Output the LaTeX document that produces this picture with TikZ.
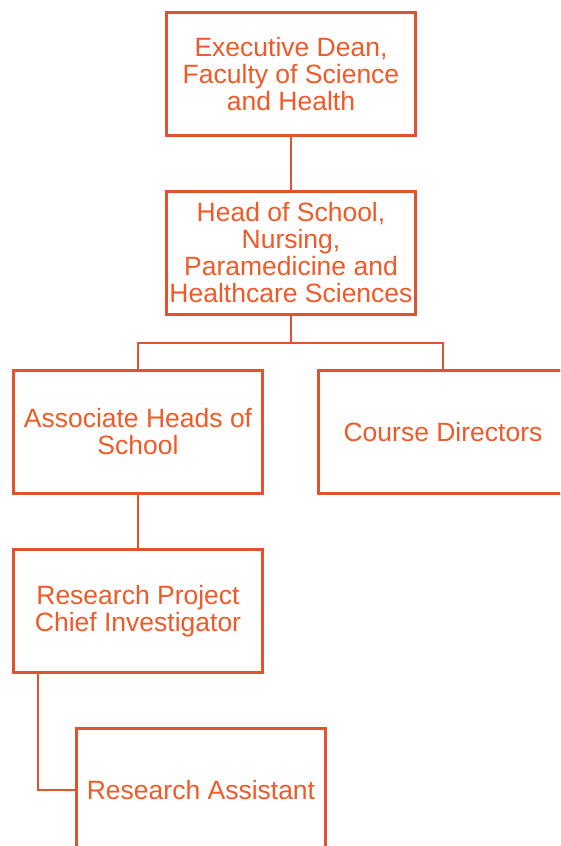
\documentclass[tikz,border=0pt]{standalone}
\usepackage{fontspec}
\setmainfont{Liberation Sans}
\usetikzlibrary{calc}
\definecolor{orgline}{HTML}{E0532D}
\definecolor{orgtext}{HTML}{F05A28}
\begin{document}
\begin{tikzpicture}[x=1pt,y=-1pt,
  orgbox/.style={draw=orgline, line width=2.6pt, fill=white, minimum width=249pt, minimum height=123pt,
    align=center, inner sep=0pt, text=orgtext, font=\fontsize{26.5}{27}\selectfont},
  conn/.style={draw=orgline, line width=2.6pt}]
\useasboundingbox (0,0) rectangle (560,846);
\clip (0,0) rectangle (560,846);
\node[orgbox] (dean) at (291,74) {Executive Dean,\\Faculty of Science\\and Health};
\node[orgbox] (head) at (291,253) {Head of School,\\Nursing,\\Paramedicine and\\Healthcare Sciences};
\node[orgbox] (assoc) at (138,432) {Associate Heads of\\School};
\node[orgbox] (course) at (443,432) {Course Directors};
\node[orgbox] (ci) at (138,611) {Research Project\\Chief Investigator};
\node[orgbox] (ra) at (201,790) {Research Assistant};
\coordinate (split) at (291,343);
\coordinate (ciout) at (38,611);
\draw[conn] (dean.south) -- (head.north);
\draw[conn] (head.south) -- (split) -| (assoc.north);
\draw[conn] (split) -| (course.north);
\draw[conn] (assoc.south) -- (ci.north);
\draw[conn] (ciout |- ci.south) |- (ra.west);
\end{tikzpicture}
\end{document}
